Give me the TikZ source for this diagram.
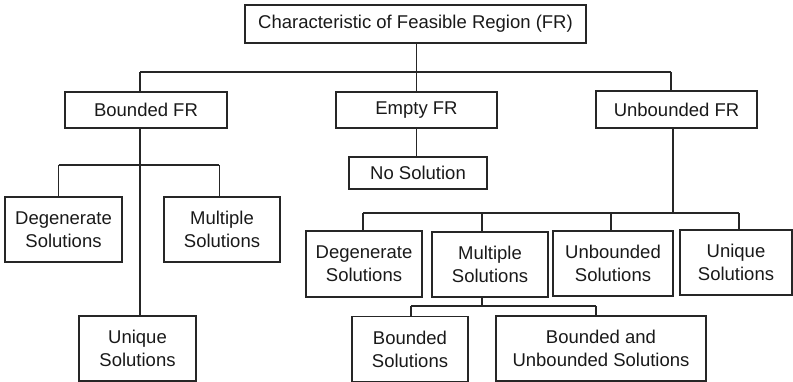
\documentclass[tikz,border=0pt]{standalone}
\usepackage{fontspec}
\setmainfont{Liberation Sans}
\begin{document}
\begin{tikzpicture}[x=1pt,y=-1pt,
  box/.style={draw=black!85, line width=1.2pt, inner sep=0pt, align=center,
    text=black!90, font=\fontsize{18.5}{23}\selectfont},
  link/.style={draw=black!85, line width=1.2pt}]
\useasboundingbox (0,0) rectangle (793,382);

% boxes: position, width, height
\node[box, minimum width=341pt, minimum height=38pt] (top)   at (415.5,24)  {Characteristic of Feasible Region (FR)};
\node[box, minimum width=162pt, minimum height=36pt] (bfr)   at (146,110)   {Bounded FR};
\node[box, minimum width=161pt, minimum height=36pt] (efr)   at (416.5,110) {Empty FR};
\node[box, minimum width=161pt, minimum height=37pt] (ufr)   at (676.5,109.5) {Unbounded FR};
\node[box, minimum width=138pt, minimum height=32pt] (nosol) at (418,173)   {No Solution};

\node[box, minimum width=117pt, minimum height=65pt] (ldeg) at (63.5,229.5) {Degenerate\\Solutions};
\node[box, minimum width=116pt, minimum height=65pt] (lmul) at (222,229.5)  {Multiple\\Solutions};
\node[box, minimum width=117pt, minimum height=65pt] (luni) at (137.5,348.5) {Unique\\Solutions};

\node[box, minimum width=116pt, minimum height=66pt] (rdeg) at (364,264)    {Degenerate\\Solutions};
\node[box, minimum width=116pt, minimum height=65pt] (rmul) at (490,264.5)  {Multiple\\Solutions};
\node[box, minimum width=120pt, minimum height=65pt] (runb) at (613,263.5)  {Unbounded\\Solutions};
\node[box, minimum width=112pt, minimum height=65pt] (runi) at (736,262.5)  {Unique\\Solutions};

\node[box, minimum width=116pt, minimum height=65pt] (bsol)  at (410,349)   {Bounded\\Solutions};
\node[box, minimum width=210pt, minimum height=65pt] (busol) at (601,348.5) {Bounded and\\Unbounded Solutions};

% junction points of the tree
\coordinate (t0) at (416.7,72);
\coordinate (tL) at (140,72);
\coordinate (tR) at (671,72);

\coordinate (bx) at (140,165);
\coordinate (bL) at (58.7,165);
\coordinate (bR) at (219.3,165);

\coordinate (u0) at (673,213);
\coordinate (u1) at (363,213);
\coordinate (u2) at (482,213);
\coordinate (u3) at (611,213);
\coordinate (u4) at (739,213);

\coordinate (m0) at (482,306);
\coordinate (mL) at (411,306);
\coordinate (mR) at (596,306);

% first level
\draw[link] (top.south -| t0) -- (t0);
\draw[link] (tL) -- (tR);
\draw[link] (tL) -- (tL |- bfr.north);
\draw[link] (t0) -- (t0 |- efr.north);
\draw[link] (tR) -- (tR |- ufr.north);
\draw[link] (efr.south -| t0) -- (t0 |- nosol.north);

% bounded branch
\draw[link] (bfr.south -| bx) -- (bx |- luni.north);
\draw[link] (bL) -- (bR);
\draw[link] (bL) -- (bL |- ldeg.north);
\draw[link] (bR) -- (bR |- lmul.north);

% unbounded branch
\draw[link] (ufr.south -| u0) -- (u0);
\draw[link] (u1) -- (u4);
\draw[link] (u1) -- (u1 |- rdeg.north);
\draw[link] (u2) -- (u2 |- rmul.north);
\draw[link] (u3) -- (u3 |- runb.north);
\draw[link] (u4) -- (u4 |- runi.north);

% multiple solutions split
\draw[link] (rmul.south -| m0) -- (m0);
\draw[link] (mL) -- (mR);
\draw[link] (mL) -- (mL |- bsol.north);
\draw[link] (mR) -- (mR |- busol.north);
\end{tikzpicture}
\end{document}
